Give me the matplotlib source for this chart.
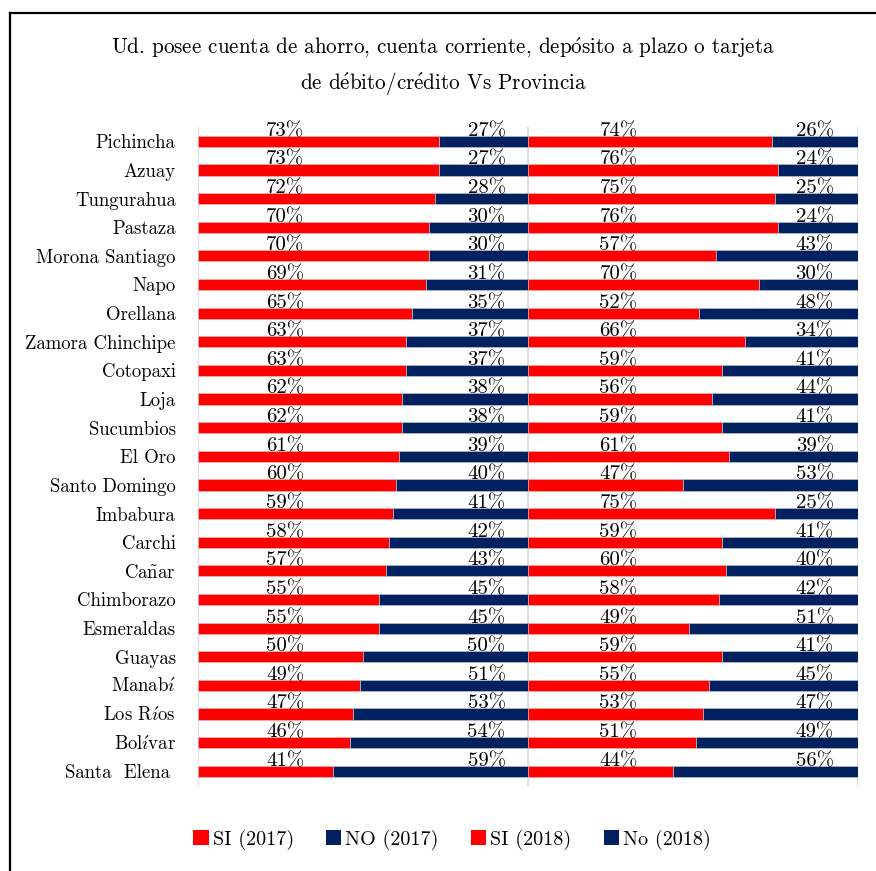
import matplotlib.pyplot as plt
from matplotlib.patches import Patch
from matplotlib.lines import Line2D

provincias = ["Pichincha", "Azuay", "Tungurahua", "Pastaza", "Morona Santiago", "Napo",
              "Orellana", "Zamora Chinchipe", "Cotopaxi", "Loja", "Sucumbios", "El Oro",
              "Santo Domingo", "Imbabura", "Carchi", "Cañar", "Chimborazo", "Esmeraldas",
              "Guayas", "Manabí", "Los Ríos", "Bolívar", "Santa  Elena "]
si_2017 = [73, 73, 72, 70, 70, 69, 65, 63, 63, 62, 62, 61, 60, 59, 58, 57, 55, 55, 50, 49, 47, 46, 41]
no_2017 = [27, 27, 28, 30, 30, 31, 35, 37, 37, 38, 38, 39, 40, 41, 42, 43, 45, 45, 50, 51, 53, 54, 59]
si_2018 = [74, 76, 75, 76, 57, 70, 52, 66, 59, 56, 59, 61, 47, 75, 59, 60, 58, 49, 59, 55, 53, 51, 44]
no_2018 = [26, 24, 25, 24, 43, 30, 48, 34, 41, 44, 41, 39, 53, 25, 41, 40, 42, 51, 41, 45, 47, 49, 56]
series = ["SI (2017)", "NO (2017)", "SI (2018)", "No (2018)"]

title = ("Ud. posee cuenta de ahorro, cuenta corriente, depósito a plazo o tarjeta\n"
         "de débito/crédito Vs Provincia")

RED = "#FF0000"
NAVY = "#002060"

plt.rcParams['font.family'] = ['cmr10', 'DejaVu Serif']
plt.rcParams['mathtext.fontset'] = 'cm'
plt.rcParams['axes.formatter.use_mathtext'] = True


def cm_text(s):
    # cmr10 has no accented glyphs, so build them with mathtext accents
    accents = {"á": r"$\mathrm{\acute{a}}$", "é": r"$\mathrm{\acute{e}}$",
               "í": r"$\mathrm{\acute{\imath}}$", "ó": r"$\mathrm{\acute{o}}$",
               "ú": r"$\mathrm{\acute{u}}$", "ñ": r"$\mathrm{\tilde{n}}$"}
    return "".join(accents.get(c, c) for c in s)


fig = plt.figure(figsize=(8.76, 8.71), dpi=100)
ax = fig.add_axes([0.226, 0.0964, 0.753, 0.7578])

y = list(range(len(provincias)))
h = 0.39
ax.barh(y, si_2017, height=h, left=0, color=RED, edgecolor="#F4B0B0", linewidth=0.5)
ax.barh(y, no_2017, height=h, left=si_2017, color=NAVY, edgecolor="#B4C0D8", linewidth=0.5)
ax.barh(y, si_2018, height=h, left=100, color=RED, edgecolor="#F4B0B0", linewidth=0.5)
ax.barh(y, no_2018, height=h, left=[100 + v for v in si_2018], color=NAVY,
        edgecolor="#B4C0D8", linewidth=0.5)

# labels sit at fixed spots above each bar, as in the original
for i in y:
    ax.text(26.5, i - 0.36, f"{si_2017[i]}%", ha="center", va="center", fontsize=15)
    ax.text(87.5, i - 0.36, f"{no_2017[i]}%", ha="center", va="center", fontsize=15)
    ax.text(127.5, i - 0.36, f"{si_2018[i]}%", ha="center", va="center", fontsize=15)
    ax.text(187, i - 0.36, f"{no_2018[i]}%", ha="center", va="center", fontsize=15)

for gx in (0, 100, 200):
    ax.axvline(gx, color="#D9D9D9", linewidth=1.2, zorder=0)

ax.set_xlim(0, 200)
ax.set_ylim(len(provincias) - 0.45, -0.5)
ax.set_yticks(y)
ax.set_yticklabels([cm_text(p) for p in provincias], fontsize=13.5)
ax.tick_params(axis="y", length=0, pad=16)
ax.set_xticks([])
for s in ax.spines.values():
    s.set_visible(False)

fig.text(0.506, 0.924, cm_text(title), ha="center", va="center", fontsize=15.2, linespacing=1.5)

handles = [Patch(facecolor=RED), Patch(facecolor=NAVY), Patch(facecolor=RED), Patch(facecolor=NAVY)]
fig.legend(handles, series, ncol=4,
           loc="center", bbox_to_anchor=(0.516, 0.036), frameon=False, fontsize=14.5,
           handlelength=0.75, handleheight=0.75, handletextpad=0.2, columnspacing=1.6)

# outer frame, cut by the image edge on the right and bottom
fig.add_artist(Line2D([10 / 876, 10 / 876], [0, 1 - 13 / 871], color="black", linewidth=1.6))
fig.add_artist(Line2D([10 / 876, 1], [1 - 13 / 871, 1 - 13 / 871], color="black", linewidth=1.6))

fig.savefig("out.png", dpi=100)
